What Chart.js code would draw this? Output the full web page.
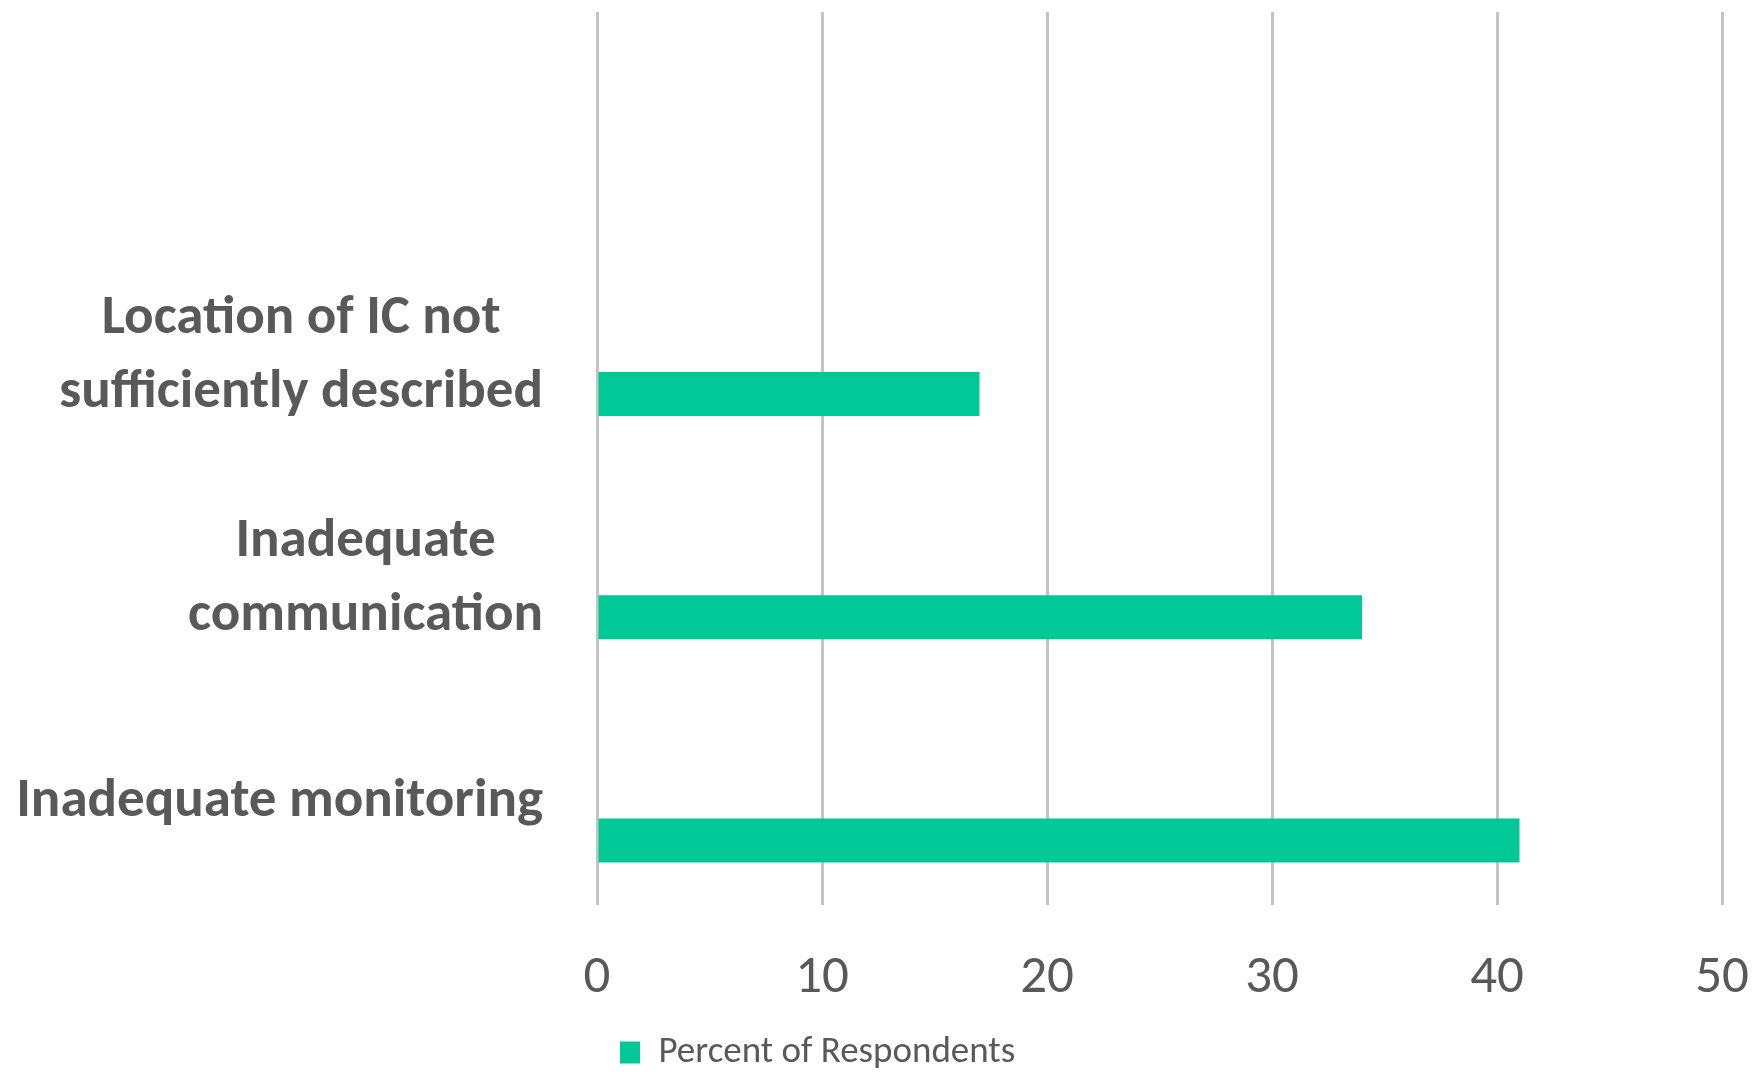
<!DOCTYPE html>
<html>
<head>
<meta charset="utf-8">
<script src="https://cdn.jsdelivr.net/npm/chart.js@4/dist/chart.umd.min.js"></script>
<style>
  html, body { margin: 0; padding: 0; background: #ffffff; }
  #wrap { width: 1758px; height: 1081px; }
</style>
</head>
<body>
<div id="wrap"><canvas id="chart" width="1758" height="1081"></canvas></div>
<script>
// Categories, top to bottom (the first band is left empty)
const categories = ['', ['Location of IC not', 'sufficiently described'], ['Inadequate', 'communication'], 'Inadequate monitoring'];
// Percent of respondents per category
const percentValues = [null, 17, 34, 41];
// Empty companion series that holds the upper slot of each group
const spacerValues = [null, null, null, null];
const seriesName = 'Percent of Respondents';
const xTickValues = [0, 10, 20, 30, 40, 50];

const FONT = 'Carlito, "Open Sans", sans-serif';
const TEXT = '#595959';
const BAR = '#00C896';
const GRID = '#C4C4C4';

// Draws the multi-line category labels, each line centred inside a right-aligned block
const categoryLabels = {
  id: 'categoryLabels',
  afterDraw(chart) {
    const { ctx, chartArea } = chart;
    const y = chart.scales.y;
    ctx.save();
    ctx.font = 'bold 55px ' + FONT;
    ctx.fillStyle = TEXT;
    ctx.textAlign = 'center';
    ctx.textBaseline = 'alphabetic';
    const right = chartArea.left - 54;
    const spacing = 74;
    categories.forEach((cat, i) => {
      const lines = Array.isArray(cat) ? cat : [cat];
      if (!lines.join('')) return;
      const blockW = Math.max(...lines.map(l => ctx.measureText(l).width));
      const cx = right - blockW / 2;
      const mid = y.getPixelForValue(i) + 23;
      lines.forEach((l, k) => {
        ctx.fillText(l, cx, mid + (k - (lines.length - 1) / 2) * spacing);
      });
    });
    ctx.restore();
  }
};

new Chart(document.getElementById('chart'), {
  type: 'bar',
  data: {
    labels: categories,
    datasets: [
      { label: '', data: spacerValues, backgroundColor: 'rgba(0,0,0,0)' },
      { label: seriesName, data: percentValues, backgroundColor: BAR, borderWidth: 0 }
    ]
  },
  options: {
    indexAxis: 'y',
    responsive: false,
    animation: false,
    categoryPercentage: 0.843,
    barPercentage: 0.468,
    layout: { padding: { top: 12, left: 597, right: 36, bottom: 0 } },
    scales: {
      x: {
        type: 'linear',
        position: 'bottom',
        min: 0,
        max: 50,
        afterBuildTicks(scale) { scale.ticks = xTickValues.map(v => ({ value: v })); },
        afterFit(scale) {
          scale.height = 106;
          scale.paddingLeft = 0;
          scale.paddingRight = 0;
        },
        grid: { color: GRID, lineWidth: 3, drawTicks: false },
        border: { display: false },
        ticks: { color: TEXT, padding: 42, font: { family: FONT, size: 53 } }
      },
      y: {
        display: false
      }
    },
    plugins: {
      legend: {
        position: 'bottom',
        align: 'start',
        fullSize: false,
        labels: {
          filter: item => item.datasetIndex === 1,
          boxWidth: 20,
          boxHeight: 22,
          padding: 23,
          color: TEXT,
          font: { family: FONT, size: 37 }
        }
      },
      tooltip: { enabled: false }
    }
  },
  plugins: [categoryLabels]
});
</script>
</body>
</html>
